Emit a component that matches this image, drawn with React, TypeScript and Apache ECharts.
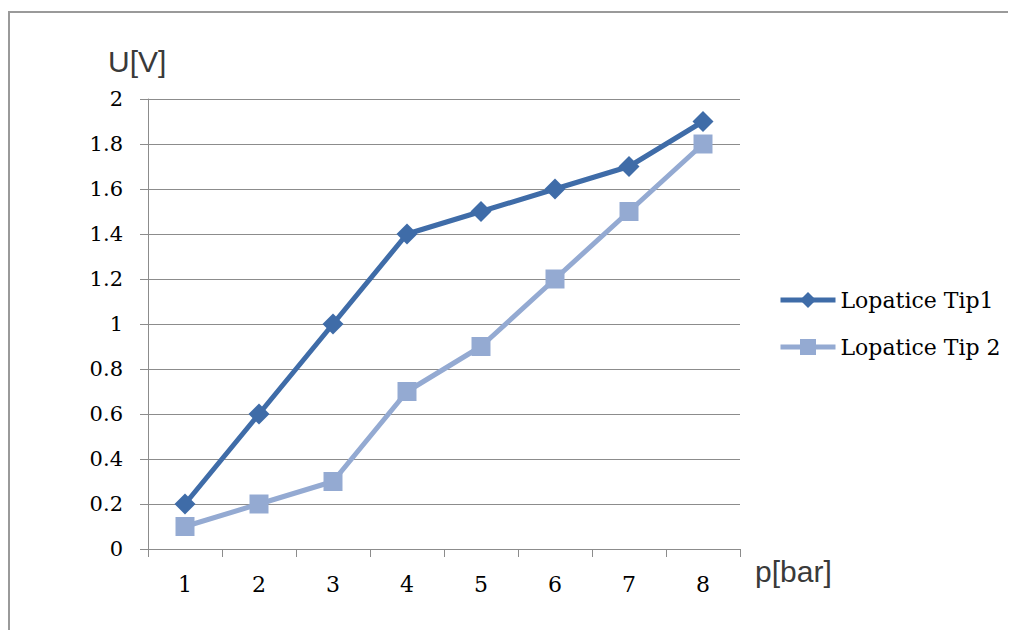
import React, { useEffect, useRef } from "react";
import * as echarts from "echarts";

const categories = ["1", "2", "3", "4", "5", "6", "7", "8"];
const tip1 = [0.2, 0.6, 1.0, 1.4, 1.5, 1.6, 1.7, 1.9];
const tip2 = [0.1, 0.2, 0.3, 0.7, 0.9, 1.2, 1.5, 1.8];
const seriesNames = ["Lopatice Tip1", "Lopatice Tip 2"];

const SERIF = "'DejaVu Serif', 'Liberation Serif', serif";
const SANS = "'Liberation Sans', Arial, sans-serif";

export default function App() {
  const ref = useRef<HTMLDivElement>(null);
  useEffect(() => {
    if (!ref.current) return;
    const chart = echarts.init(ref.current, undefined, { renderer: "svg" });
    chart.setOption({
      animation: false,
      backgroundColor: "#ffffff",
      grid: { left: 140, right: 276, top: 91, bottom: 81, containLabel: false },
      graphic: [
        {
          type: "rect",
          shape: { x: 1, y: 4, width: 1030, height: 660 },
          style: { fill: "none", stroke: "#9a9a9a", lineWidth: 2 },
          silent: true,
        },
        {
          type: "text",
          left: 100,
          top: 38,
          style: { text: "U[V]", font: `30px ${SANS}`, fill: "#3a3a3a" },
        },
        {
          type: "text",
          left: 747,
          top: 548,
          style: { text: "p[bar]", font: `30px ${SANS}`, fill: "#3a3a3a" },
        },
      ],
      legend: {
        orient: "vertical",
        left: 765,
        top: 276,
        itemWidth: 55,
        itemHeight: 20,
        itemGap: 25,
        lineStyle: { width: 5 },
        textStyle: { fontFamily: SERIF, fontSize: 22, color: "#000" },
        data: seriesNames,
      },
      xAxis: {
        type: "category",
        data: categories,
        boundaryGap: true,
        axisLine: { show: true, lineStyle: { color: "#8c8c8c", width: 1 } },
        axisTick: { show: true, length: 8, alignWithLabel: false, lineStyle: { color: "#8c8c8c" } },
        axisLabel: { fontFamily: SERIF, fontSize: 22, color: "#000", margin: 24 },
        splitLine: { show: false },
      },
      yAxis: {
        type: "value",
        min: 0,
        max: 2,
        interval: 0.2,
        axisLine: { show: true, lineStyle: { color: "#8c8c8c", width: 1 } },
        axisTick: { show: true, length: 8, lineStyle: { color: "#8c8c8c" } },
        axisLabel: {
          fontFamily: SERIF,
          fontSize: 21,
          color: "#000",
          margin: 25,
          formatter: (v: number) => String(Math.round(v * 10) / 10),
        },
        splitLine: { show: true, lineStyle: { color: "#8c8c8c", width: 1 } },
      },
      series: [
        {
          name: seriesNames[0],
          type: "line",
          data: tip1,
          symbol: "diamond",
          symbolSize: 21,
          lineStyle: { color: "#3f6ca8", width: 5 },
          itemStyle: { color: "#3f6ca8" },
          z: 3,
        },
        {
          name: seriesNames[1],
          type: "line",
          data: tip2,
          symbol: "rect",
          symbolSize: 19,
          lineStyle: { color: "#94aad2", width: 5 },
          itemStyle: { color: "#94aad2" },
          z: 2,
        },
      ],
    });
    return () => chart.dispose();
  }, []);
  return <div ref={ref} style={{ width: 1008, height: 622 }} />;
}
